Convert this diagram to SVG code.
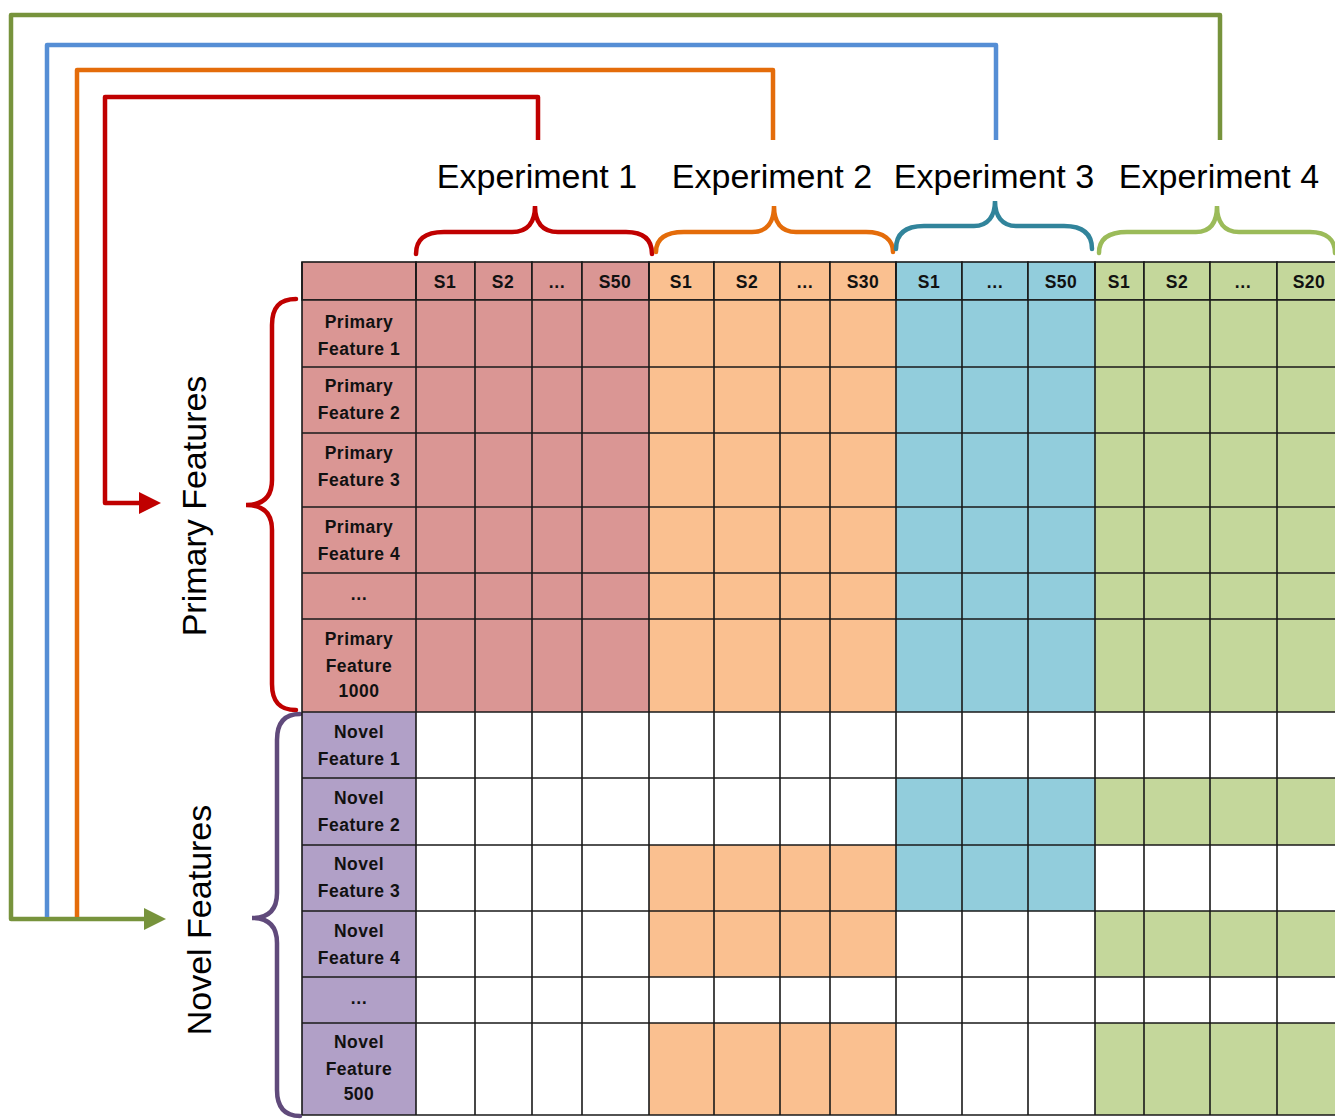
<svg xmlns="http://www.w3.org/2000/svg" width="1335" height="1119" viewBox="0 0 1335 1119">
<defs>
<style>
.cell{stroke:#1a1a1a;stroke-width:1.6}
.r{fill:#DA9694}.o{fill:#FAC090}.b{fill:#92CDDC}.g{fill:#C4D79B}.p{fill:#B1A0C7}.w{fill:#ffffff}
.t{font-family:"Liberation Sans",Arial,sans-serif;font-weight:bold;font-size:17.5px;letter-spacing:0.5px;fill:#111;text-anchor:middle}
.big{font-family:"Liberation Sans",Arial,sans-serif;font-size:34px;fill:#000;text-anchor:middle}
.conn{fill:none;stroke-width:4.5;stroke-linejoin:round}
.brace{fill:none;stroke-width:4.5;stroke-linecap:round}
</style>
<marker id="ahR" markerWidth="5" markerHeight="5" refX="1" refY="2.5" orient="auto" markerUnits="strokeWidth"><path d="M0,0 L5,2.5 L0,5 z" fill="#C00000"/></marker>
<marker id="ahG" markerWidth="5" markerHeight="5" refX="1" refY="2.5" orient="auto" markerUnits="strokeWidth"><path d="M0,0 L5,2.5 L0,5 z" fill="#77933C"/></marker>
</defs>
<rect width="1335" height="1119" fill="#ffffff"/>

<g id="connectors">
<path class="conn" stroke="#77933C" d="M1220,140 L1220,15 L11,15 L11,919 L148,919" marker-end="url(#ahG)"/>
<path class="conn" stroke="#558ED5" d="M996,140 L996,45 L47,45 L47,917"/>
<path class="conn" stroke="#E46C0A" d="M773,140 L773,70 L77,70 L77,917"/>
<path class="conn" stroke="#C00000" d="M538,140 L538,97 L105,97 L105,503 L143,503" marker-end="url(#ahR)"/>
</g>

<g id="experiment-labels">
<text class="big" x="537" y="188">Experiment 1</text>
<text class="big" x="772" y="188">Experiment 2</text>
<text class="big" x="994" y="188">Experiment 3</text>
<text class="big" x="1219" y="188">Experiment 4</text>
</g>

<g id="top-braces">
<path class="brace" stroke="#C00000" d="M416,254 C416,240 424,232 444,232 L512,232 C528,232 535,222 535,206 C535,222 542,232 558,232 L626,232 C644,232 652,240 652,254"/>
<path class="brace" stroke="#E46C0A" d="M656,252 C656,240 664,232 684,232 L752,232 C767,232 774,222 774,206 C774,222 781,232 796,232 L866,232 C884,232 893,240 893,252"/>
<path class="brace" stroke="#31849B" d="M896,249 C896,235 904,226 924,226 L974,226 C988,226 995,216 995,201 C995,216 1002,226 1016,226 L1064,226 C1084,226 1092,235 1092,249"/>
<path class="brace" stroke="#9BBB59" d="M1099,253 C1099,240 1107,232 1127,232 L1196,232 C1211,232 1217,222 1217,206 C1217,222 1224,232 1239,232 L1310,232 C1327,232 1335,240 1335,253"/>
</g>

<g id="left-braces">
<path class="brace" stroke="#C00000" d="M296,299 C280,299 272,307 272,325 L272,480 C272,497 263,505 246,505 C263,505 272,513 272,530 L272,684 C272,702 280,710 296,710"/>
<path class="brace" stroke="#604A7B" d="M300,714 C285,714 277,722 277,740 L277,893 C277,910 268,918 252,918 C268,918 277,926 277,943 L277,1090 C277,1108 285,1116 300,1116"/>
</g>

<g id="side-labels">
<text class="big" transform="translate(206,506) rotate(-90)">Primary Features</text>
<text class="big" transform="translate(211,920) rotate(-90)">Novel Features</text>
</g>

<g id="header-row">
<rect class="cell r" x="302" y="262" width="114" height="38"/>
<rect class="cell r" x="416" y="262" width="59" height="38"/>
<rect class="cell r" x="475" y="262" width="57" height="38"/>
<rect class="cell r" x="532" y="262" width="50" height="38"/>
<rect class="cell r" x="582" y="262" width="67" height="38"/>
<rect class="cell o" x="649" y="262" width="65" height="38"/>
<rect class="cell o" x="714" y="262" width="66" height="38"/>
<rect class="cell o" x="780" y="262" width="50" height="38"/>
<rect class="cell o" x="830" y="262" width="66" height="38"/>
<rect class="cell b" x="896" y="262" width="66" height="38"/>
<rect class="cell b" x="962" y="262" width="66" height="38"/>
<rect class="cell b" x="1028" y="262" width="67" height="38"/>
<rect class="cell g" x="1095" y="262" width="49" height="38"/>
<rect class="cell g" x="1144" y="262" width="66" height="38"/>
<rect class="cell g" x="1210" y="262" width="67" height="38"/>
<rect class="cell g" x="1277" y="262" width="70" height="38"/>
<text class="t" x="445" y="288">S1</text>
<text class="t" x="503" y="288">S2</text>
<text class="t" x="557" y="288">…</text>
<text class="t" x="615" y="288">S50</text>
<text class="t" x="681" y="288">S1</text>
<text class="t" x="747" y="288">S2</text>
<text class="t" x="805" y="288">…</text>
<text class="t" x="863" y="288">S30</text>
<text class="t" x="929" y="288">S1</text>
<text class="t" x="995" y="288">…</text>
<text class="t" x="1061" y="288">S50</text>
<text class="t" x="1119" y="288">S1</text>
<text class="t" x="1177" y="288">S2</text>
<text class="t" x="1243" y="288">…</text>
<text class="t" x="1309" y="288">S20</text>
</g>

<!-- Primary rows: exp1 red, exp2 orange, exp3 blue, exp4 green -->
<g id="primary-block">
<rect class="r" x="302" y="300" width="347" height="412"/>
<rect class="o" x="649" y="300" width="247" height="412"/>
<rect class="b" x="896" y="300" width="199" height="412"/>
<rect class="g" x="1095" y="300" width="245" height="412"/>
</g>

<g id="novel-block">
<rect class="p" x="302" y="712" width="114" height="403"/>
<rect class="w" x="416" y="712" width="924" height="403"/>
<!-- Novel 2 -->
<rect class="b" x="896" y="778" width="199" height="67"/>
<rect class="g" x="1095" y="778" width="245" height="67"/>
<!-- Novel 3 -->
<rect class="o" x="649" y="845" width="247" height="66"/>
<rect class="b" x="896" y="845" width="199" height="66"/>
<!-- Novel 4 -->
<rect class="o" x="649" y="911" width="247" height="66"/>
<rect class="g" x="1095" y="911" width="245" height="66"/>
<!-- Novel 500 -->
<rect class="o" x="649" y="1023" width="247" height="92"/>
<rect class="g" x="1095" y="1023" width="245" height="92"/>
</g>

<g id="grid-lines" stroke="#1a1a1a" stroke-width="1.6" fill="none">
<path d="M302,300 H1340 M302,367 H1340 M302,433 H1340 M302,507 H1340 M302,573 H1340 M302,619 H1340 M302,712 H1340 M302,778 H1340 M302,845 H1340 M302,911 H1340 M302,977 H1340 M302,1023 H1340 M302,1115 H1340"/>
<path d="M302,262 V1115 M416,262 V1115 M475,300 V1115 M532,300 V1115 M582,300 V1115 M649,262 V1115 M714,300 V1115 M780,300 V1115 M830,300 V1115 M896,262 V1115 M962,300 V1115 M1028,300 V1115 M1095,262 V1115 M1144,300 V1115 M1210,300 V1115 M1277,300 V1115"/>
</g>

<g id="row-labels">
<g id="pf1"><text class="t" x="359" y="328">Primary</text><text class="t" x="359" y="355">Feature 1</text></g>
<g id="pf2"><text class="t" x="359" y="392">Primary</text><text class="t" x="359" y="419">Feature 2</text></g>
<g id="pf3"><text class="t" x="359" y="459">Primary</text><text class="t" x="359" y="486">Feature 3</text></g>
<g id="pf4"><text class="t" x="359" y="533">Primary</text><text class="t" x="359" y="560">Feature 4</text></g>
<g id="pfdots"><text class="t" x="359" y="600">…</text></g>
<g id="pf1000"><text class="t" x="359" y="645">Primary</text><text class="t" x="359" y="672">Feature</text><text class="t" x="359" y="697">1000</text></g>
<g id="nf1"><text class="t" x="359" y="738">Novel</text><text class="t" x="359" y="765">Feature 1</text></g>
<g id="nf2"><text class="t" x="359" y="804">Novel</text><text class="t" x="359" y="831">Feature 2</text></g>
<g id="nf3"><text class="t" x="359" y="870">Novel</text><text class="t" x="359" y="897">Feature 3</text></g>
<g id="nf4"><text class="t" x="359" y="937">Novel</text><text class="t" x="359" y="964">Feature 4</text></g>
<g id="nfdots"><text class="t" x="359" y="1004">…</text></g>
<g id="nf500"><text class="t" x="359" y="1048">Novel</text><text class="t" x="359" y="1075">Feature</text><text class="t" x="359" y="1100">500</text></g>
</g>
</svg>
